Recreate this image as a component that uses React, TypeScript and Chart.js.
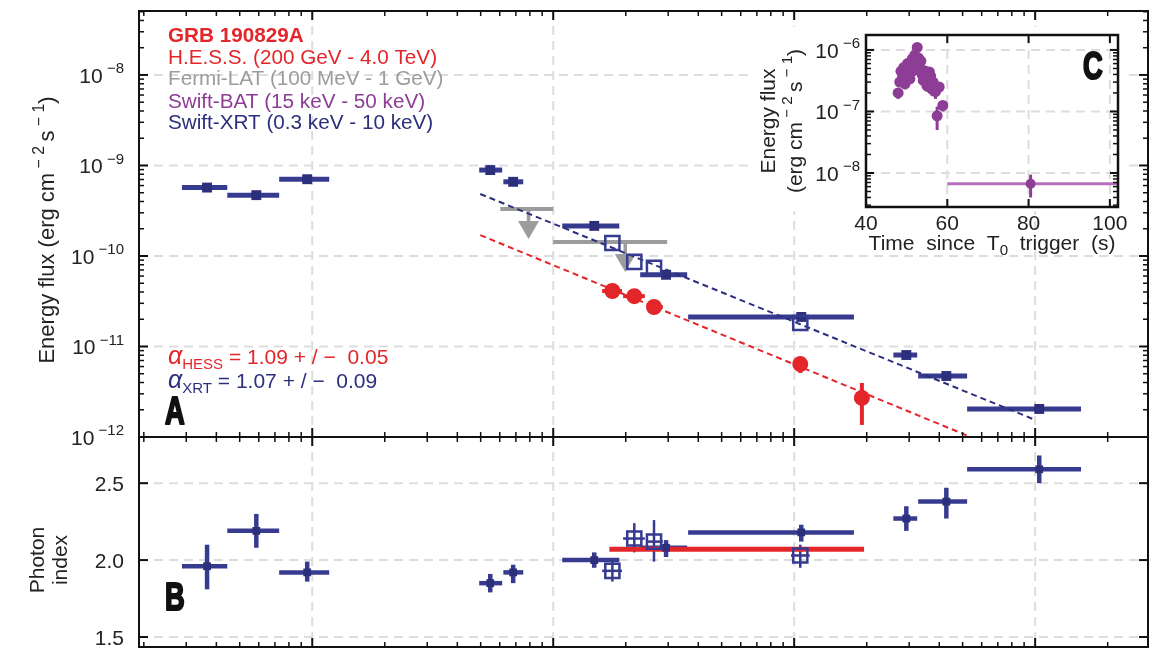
import React, { useEffect, useRef } from 'react';
import { Chart, registerables } from 'chart.js';

Chart.register(...registerables);

const W = 1151;
const H = 649;
const FONT = "'Liberation Sans', Arial, Helvetica, sans-serif";

const NAVY = '#363b8f';
const NAVY_D = '#2c2f7c';
const RED = '#e3262a';
const GRAY = '#9c9c9c';
const PURPLE = '#8e3d97';
const PURPLE_L = '#b56fbd';
const GRIDC = '#dddddd';

// ---------- time axis (s) ----------
const X_MIN = 191;
const X_MAX = 2.94e6;

// ---------- Panel A: energy flux ----------
const FLUX_MIN = 1e-12;
const FLUX_MAX = 5.09e-8;
const fluxTickExps = [-8, -9, -10, -11, -12];

// Swift-XRT (filled squares): time bin, flux, photon index
const xrtT = [366, 586, 953, 5480, 6820, 14800, 29400, 107000, 292000, 428000, 1040000];
const xrtTlo = [288, 444, 729, 4930, 6210, 10900, 22960, 36300, 258000, 327000, 522000];
const xrtThi = [444, 729, 1176, 6140, 7510, 18800, 35970, 177000, 324000, 522000, 1550000];
const xrtFlux = [5.7e-10, 4.7e-10, 7.05e-10, 8.9e-10, 6.6e-10, 2.15e-10, 6.2e-11, 2.12e-11, 8.05e-12, 4.72e-12, 2.04e-12];
const xrtIndex = [1.96, 2.19, 1.92, 1.85, 1.92, 2.0, 2.08, 2.18, 2.27, 2.38, 2.59];
const xrtIndexLo = [1.81, 2.08, 1.86, 1.79, 1.85, 1.95, 2.02, 2.12, 2.19, 2.27, 2.5];
const xrtIndexHi = [2.1, 2.3, 1.99, 1.91, 1.97, 2.05, 2.13, 2.23, 2.35, 2.47, 2.68];

// Swift-XRT simultaneous with H.E.S.S. (open squares)
const xrtOpenT = [17600, 21700, 26200, 106000];
const xrtOpenTlo = [15960, 19500, 24300, 97000];
const xrtOpenThi = [19300, 24000, 28500, 116000];
const xrtOpenFlux = [1.39e-10, 8.6e-11, 7.4e-11, 1.82e-11];
const xrtOpenIndex = [1.93, 2.14, 2.12, 2.03];
const xrtOpenIndexLo = [1.86, 2.05, 1.99, 1.95];
const xrtOpenIndexHi = [2.0, 2.24, 2.26, 2.1];

// H.E.S.S.
const hessT = [17600, 21700, 26200, 106000, 191000];
const hessTlo = [15960, 19500, 24500, 106000, 191000];
const hessThi = [19300, 24000, 28500, 106000, 191000];
const hessFlux = [4.1e-11, 3.6e-11, 2.73e-11, 6.4e-12, 2.7e-12];
const hessFluxLo = [3.6e-11, 3.2e-11, 2.4e-11, 5.1e-12, 1.36e-12];
const hessFluxHi = [4.6e-11, 4.0e-11, 3.1e-11, 7.65e-12, 3.95e-12];
const hessIndexT = [17100, 195000];
const hessIndex = [2.07, 2.07];

// Fermi-LAT upper limits
const latT = [7900, 19900];
const latTlo = [6030, 10000];
const latThi = [10000, 29700];
const latUL = [3.3e-10, 1.43e-10];

// power-law decay fits (end points)
const xrtFitT = [4980, 980000];
const xrtFitF = [4.84e-10, 1.58e-12];
const hessFitT = [4980, 540000];
const hessFitF = [1.7e-10, 1.0e-12];

// ---------- Panel B: photon index ----------
const IDX_MIN = 1.435;
const IDX_MAX = 2.8;
const idxTicks = [1.5, 2.0, 2.5];

// ---------- Panel C: Swift-BAT inset ----------
const C_X_MIN = 40;
const C_X_MAX = 102;
const C_Y_MIN = 2.8e-9;
const C_Y_MAX = 1.75e-6;
const cXTicks = [40, 60, 80, 100];
const cYTickExps = [-6, -7, -8];
const batT = [47.9, 48.3, 48.6, 49.0, 49.3, 49.6, 49.9, 50.2, 50.5, 50.8, 51.1, 51.4, 51.7, 52.0, 52.3, 52.6, 52.9, 53.2, 53.5, 53.8, 54.1, 54.4, 54.7, 55.0, 55.3, 55.6, 55.9, 56.2, 56.5, 56.8, 57.1, 57.5, 58.0, 58.9];
const batFlux = [2.0e-7, 3.0e-7, 4.5e-7, 3.6e-7, 5.2e-7, 2.8e-7, 4.2e-7, 6.0e-7, 4.8e-7, 3.4e-7, 5.6e-7, 7.2e-7, 4.6e-7, 8.2e-7, 6.2e-7, 1.1e-6, 7.4e-7, 5.0e-7, 6.6e-7, 4.0e-7, 3.2e-7, 4.6e-7, 3.6e-7, 2.6e-7, 3.1e-7, 4.4e-7, 3.8e-7, 2.3e-7, 3.0e-7, 2.6e-7, 2.1e-7, 8.5e-8, 2.5e-7, 1.25e-7];
const batErr = [0.4e-7, 0.5e-7, 0.7e-7, 0.6e-7, 0.8e-7, 0.5e-7, 0.7e-7, 0.9e-7, 0.8e-7, 0.6e-7, 0.9e-7, 1.1e-7, 0.8e-7, 1.2e-7, 1.0e-7, 1.5e-7, 1.1e-7, 0.8e-7, 1.0e-7, 0.7e-7, 0.6e-7, 0.8e-7, 0.6e-7, 0.5e-7, 0.6e-7, 0.7e-7, 0.6e-7, 0.5e-7, 0.6e-7, 0.5e-7, 0.5e-7, 0.35e-7, 0.5e-7, 0.25e-7];
const batLateT = [80.5];
const batLateTlo = [60];
const batLateThi = [104];
const batLateFlux = [6.7e-9];
const batLateLo = [4.0e-9];
const batLateHi = [9.4e-9];

// ---------- helpers ----------
type Seg = { t: string; sup?: boolean; sub?: boolean; it?: boolean; sz?: number };

function segSize(s: Seg, size: number) {
  if (s.sz) return s.sz;
  return s.sup || s.sub ? size * 0.72 : size;
}
function segFont(s: Seg, size: number, weight: string, family: string) {
  return `${s.it ? 'italic ' : ''}${weight} ${segSize(s, size)}px ${family}`;
}
function richWidth(ctx: CanvasRenderingContext2D, segs: Seg[], size: number, weight: string, family: string) {
  let w = 0;
  for (const s of segs) {
    ctx.font = segFont(s, size, weight, family);
    w += ctx.measureText(s.t).width;
  }
  return w;
}
// cy = vertical centre of capital letters
function drawRich(
  ctx: CanvasRenderingContext2D,
  segs: Seg[],
  x: number,
  cy: number,
  size: number,
  color: string,
  align: 'left' | 'right' | 'center',
  weight = 'normal',
  family = FONT
) {
  const w = richWidth(ctx, segs, size, weight, family);
  let cx = align === 'left' ? x : align === 'right' ? x - w : x - w / 2;
  const base = cy + size * 0.36;
  ctx.fillStyle = color;
  ctx.textAlign = 'left';
  ctx.textBaseline = 'alphabetic';
  for (const s of segs) {
    ctx.font = segFont(s, size, weight, family);
    const dy = s.sup ? -size * 0.45 : s.sub ? size * 0.26 : 0;
    ctx.fillText(s.t, cx, base + dy);
    cx += ctx.measureText(s.t).width;
  }
}
function drawRichRot(ctx: CanvasRenderingContext2D, segs: Seg[], x: number, y: number, size: number, color: string) {
  ctx.save();
  ctx.translate(x, y);
  ctx.rotate(-Math.PI / 2);
  drawRich(ctx, segs, 0, 0, size, color, 'center');
  ctx.restore();
}
// condensed heavy panel letter, x = left edge, cy = centre of the letter
function drawLetter(ctx: CanvasRenderingContext2D, t: string, x: number, cy: number, size: number) {
  ctx.save();
  ctx.translate(x, cy);
  ctx.scale(0.7, 1);
  ctx.font = `bold ${size}px ${FONT}`;
  ctx.textAlign = 'left';
  ctx.textBaseline = 'alphabetic';
  ctx.fillStyle = '#111';
  ctx.strokeStyle = '#111';
  ctx.lineWidth = 2.2;
  ctx.lineJoin = 'round';
  const base = size * 0.36;
  ctx.fillText(t, 0, base);
  ctx.strokeText(t, 0, base);
  ctx.restore();
}

function logTicks(min: number, max: number) {
  const out: { v: number; major: boolean }[] = [];
  for (let e = Math.floor(Math.log10(min)); e <= Math.ceil(Math.log10(max)); e++) {
    for (let m = 1; m <= 9; m++) {
      const v = m * Math.pow(10, e);
      if (v >= min * 0.9999 && v <= max * 1.0001) out.push({ v, major: m === 1 });
    }
  }
  return out;
}

function seg(ctx: CanvasRenderingContext2D, x1: number, y1: number, x2: number, y2: number) {
  ctx.beginPath();
  ctx.moveTo(x1, y1);
  ctx.lineTo(x2, y2);
  ctx.stroke();
}

function drawGrid(chart: any, xs: number[], ys: number[]) {
  const { ctx, chartArea: ca, scales } = chart;
  ctx.save();
  ctx.strokeStyle = GRIDC;
  ctx.lineWidth = 2;
  ctx.setLineDash([9, 6]);
  for (const v of xs) {
    const p = scales.x.getPixelForValue(v);
    if (p > ca.left + 1 && p < ca.right - 1) seg(ctx, p, ca.top, p, ca.bottom);
  }
  for (const v of ys) {
    const p = scales.y.getPixelForValue(v);
    if (p > ca.top + 1 && p < ca.bottom - 1) seg(ctx, ca.left, p, ca.right, p);
  }
  ctx.restore();
}

function drawFrame(
  chart: any,
  xt: { v: number; major: boolean }[],
  yt: { v: number; major: boolean }[],
  frameW: number,
  maj = 9,
  min = 5
) {
  const { ctx, chartArea: ca, scales } = chart;
  ctx.save();
  ctx.strokeStyle = '#111';
  ctx.setLineDash([]);
  for (const t of xt) {
    const p = scales.x.getPixelForValue(t.v);
    if (p < ca.left - 0.5 || p > ca.right + 0.5) continue;
    const L = t.major ? maj : min;
    ctx.lineWidth = t.major ? 2 : 1.5;
    seg(ctx, p, ca.top, p, ca.top + L);
    seg(ctx, p, ca.bottom, p, ca.bottom - L);
  }
  for (const t of yt) {
    const p = scales.y.getPixelForValue(t.v);
    if (p < ca.top - 0.5 || p > ca.bottom + 0.5) continue;
    const L = t.major ? maj : min;
    ctx.lineWidth = t.major ? 2 : 1.5;
    seg(ctx, ca.left, p, ca.left + L, p);
    seg(ctx, ca.right, p, ca.right - L, p);
  }
  ctx.lineWidth = frameW;
  ctx.strokeRect(ca.left, ca.top, ca.width, ca.height);
  ctx.restore();
}

// error bars: datasets carry `eb` style, points carry xMin/xMax/yMin/yMax
function drawErrorBars(chart: any) {
  const { ctx, chartArea: ca, scales } = chart;
  ctx.save();
  ctx.beginPath();
  ctx.rect(ca.left, ca.top, ca.width, ca.height);
  ctx.clip();
  ctx.setLineDash([]);
  ctx.lineCap = 'butt';
  chart.data.datasets.forEach((ds: any) => {
    if (!ds.eb) return;
    for (const d of ds.data) {
      const px = scales.x.getPixelForValue(d.x);
      const py = scales.y.getPixelForValue(d.y);
      if (d.xMin !== undefined && d.xMax !== undefined && d.xMax > d.xMin) {
        ctx.strokeStyle = ds.eb.xColor || ds.eb.color;
        ctx.lineWidth = ds.eb.xw;
        seg(ctx, scales.x.getPixelForValue(d.xMin), py, scales.x.getPixelForValue(d.xMax), py);
      }
      if (d.yMin !== undefined && d.yMax !== undefined) {
        ctx.strokeStyle = ds.eb.color;
        ctx.lineWidth = ds.eb.yw;
        seg(ctx, px, scales.y.getPixelForValue(d.yMin), px, scales.y.getPixelForValue(d.yMax));
      }
      if (ds.eb.ul) {
        // upper-limit arrow
        ctx.strokeStyle = ds.eb.color;
        ctx.fillStyle = ds.eb.color;
        ctx.lineWidth = 3.5;
        seg(ctx, px, py, px, py + 14);
        ctx.beginPath();
        ctx.moveTo(px - 10.5, py + 12);
        ctx.lineTo(px + 10.5, py + 12);
        ctx.lineTo(px, py + 30);
        ctx.closePath();
        ctx.fill();
      }
    }
  });
  ctx.restore();
}

const baseOptions = (pad: { left: number; top: number; right: number; bottom: number }) => ({
  responsive: false,
  animation: false as const,
  events: [] as any[],
  layout: { padding: pad, autoPadding: false },
  plugins: { legend: { display: false }, tooltip: { enabled: false } },
});

const fluxUnit: Seg[] = [
  { t: '(erg cm' },
  { t: ' \u2212 2 ', sup: true },
  { t: 's' },
  { t: ' \u2212 1', sup: true },
  { t: ')' },
];

// ---------- chart A ----------
function makeA(canvas: HTMLCanvasElement) {
  const xTicks = logTicks(X_MIN, X_MAX);
  const yTicks = logTicks(FLUX_MIN, FLUX_MAX);
  const plugin = {
    id: 'panelA',
    beforeDatasetsDraw(chart: any) {
      drawGrid(chart, [1e3, 1e4, 1e5, 1e6], fluxTickExps.map((e) => Math.pow(10, e)));
      drawErrorBars(chart);
    },
    afterDatasetsDraw(chart: any) {
      const { ctx, chartArea: ca, scales } = chart;
      drawFrame(chart, xTicks, yTicks, 2);
      for (const e of fluxTickExps) {
        const p = scales.y.getPixelForValue(Math.pow(10, e));
        drawRich(ctx, [{ t: '10' }, { t: ' \u2212' + -e, sup: true, sz: 15 }], ca.left - 15, p, 21, '#222', 'right');
      }
      drawRichRot(ctx, [{ t: 'Energy flux ' }, ...fluxUnit], 46, 230, 22, '#222');
      // legend text
      const lx = 168;
      drawRich(ctx, [{ t: 'GRB 190829A' }], lx, 35, 20.7, RED, 'left', 'bold');
      drawRich(ctx, [{ t: 'H.E.S.S. (200 GeV - 4.0 TeV)' }], lx, 56.5, 20.7, RED, 'left');
      drawRich(ctx, [{ t: 'Fermi-LAT (100 MeV - 1 GeV)' }], lx, 78, 20.7, GRAY, 'left');
      drawRich(ctx, [{ t: 'Swift-BAT (15 keV - 50 keV)' }], lx, 100.5, 20.7, PURPLE, 'left');
      drawRich(ctx, [{ t: 'Swift-XRT (0.3 keV - 10 keV)' }], lx, 122, 20.7, NAVY_D, 'left');
      drawRich(
        ctx,
        [{ t: '\u03b1', it: true, sz: 25 }, { t: 'HESS', sub: true, sz: 15 }, { t: ' = 1.09 + / \u2212  0.05' }],
        lx,
        356,
        21,
        RED,
        'left'
      );
      drawRich(
        ctx,
        [{ t: '\u03b1', it: true, sz: 25 }, { t: 'XRT', sub: true, sz: 15 }, { t: ' = 1.07 + / \u2212  0.09' }],
        lx,
        380,
        21,
        NAVY_D,
        'left'
      );
      drawLetter(ctx, 'A', 165, 410, 39);
    },
  };
  return new Chart(canvas, {
    type: 'scatter',
    data: {
      datasets: [
        {
          label: 'H.E.S.S.',
          data: hessT.map((t, i) => ({ x: t, y: hessFlux[i], xMin: hessTlo[i], xMax: hessThi[i], yMin: hessFluxLo[i], yMax: hessFluxHi[i] })),
          pointStyle: 'circle',
          pointRadius: 8,
          pointBackgroundColor: RED,
          pointBorderColor: RED,
          pointBorderWidth: 0,
          eb: { color: RED, xw: 4, yw: 4 },
        } as any,
        {
          label: 'XRT open',
          data: xrtOpenT.map((t, i) => ({ x: t, y: xrtOpenFlux[i] })),
          pointStyle: 'rect',
          pointRadius: 10,
          pointBackgroundColor: 'rgba(0,0,0,0)',
          pointBorderColor: NAVY,
          pointBorderWidth: 2.5,
        } as any,
        {
          label: 'XRT',
          data: xrtT.map((t, i) => ({ x: t, y: xrtFlux[i], xMin: xrtTlo[i], xMax: xrtThi[i] })),
          pointStyle: 'rect',
          pointRadius: 7,
          pointBackgroundColor: NAVY_D,
          pointBorderColor: NAVY_D,
          pointBorderWidth: 0,
          eb: { color: NAVY, xw: 5, yw: 4 },
        } as any,
        {
          label: 'LAT UL',
          data: latT.map((t, i) => ({ x: t, y: latUL[i], xMin: latTlo[i], xMax: latThi[i] })),
          pointRadius: 0,
          eb: { color: GRAY, xw: 4, yw: 3, ul: true },
        } as any,
        {
          label: 'XRT fit',
          data: xrtFitT.map((t, i) => ({ x: t, y: xrtFitF[i] })),
          showLine: true,
          borderColor: NAVY_D,
          borderWidth: 2,
          borderDash: [6, 4],
          pointRadius: 0,
        } as any,
        {
          label: 'HESS fit',
          data: hessFitT.map((t, i) => ({ x: t, y: hessFitF[i] })),
          showLine: true,
          borderColor: RED,
          borderWidth: 2,
          borderDash: [6, 4],
          pointRadius: 0,
        } as any,
      ],
    },
    options: {
      ...baseOptions({ left: 139, top: 11, right: W - 1148, bottom: H - 437 }),
      scales: {
        x: { type: 'logarithmic', min: X_MIN, max: X_MAX, display: false },
        y: { type: 'logarithmic', min: FLUX_MIN, max: FLUX_MAX, display: false },
      },
    } as any,
    plugins: [plugin],
  });
}

// ---------- chart B ----------
function makeB(canvas: HTMLCanvasElement) {
  const xTicks = logTicks(X_MIN, X_MAX);
  const yTicks = idxTicks.map((v) => ({ v, major: true }));
  const plugin = {
    id: 'panelB',
    beforeDatasetsDraw(chart: any) {
      drawGrid(chart, [1e3, 1e4, 1e5, 1e6], idxTicks);
      drawErrorBars(chart);
    },
    afterDatasetsDraw(chart: any) {
      const { ctx, chartArea: ca, scales } = chart;
      drawFrame(chart, xTicks, yTicks, 2);
      for (const v of idxTicks) {
        const p = scales.y.getPixelForValue(v);
        drawRich(ctx, [{ t: v.toFixed(1) }], ca.left - 15, p, 21, '#222', 'right');
      }
      drawRichRot(ctx, [{ t: 'Photon' }], 36, 560, 21, '#222');
      drawRichRot(ctx, [{ t: 'index' }], 59, 560, 21, '#222');
      drawLetter(ctx, 'B', 165, 596, 39);
    },
  };
  return new Chart(canvas, {
    type: 'scatter',
    data: {
      datasets: [
        {
          label: 'XRT open',
          data: xrtOpenT.map((t, i) => ({ x: t, y: xrtOpenIndex[i], xMin: xrtOpenTlo[i], xMax: xrtOpenThi[i], yMin: xrtOpenIndexLo[i], yMax: xrtOpenIndexHi[i] })),
          pointStyle: 'rect',
          pointRadius: 10,
          pointBackgroundColor: 'rgba(0,0,0,0)',
          pointBorderColor: NAVY,
          pointBorderWidth: 2.5,
          eb: { color: NAVY, xw: 2.5, yw: 2.5 },
        } as any,
        {
          label: 'XRT',
          data: xrtT.map((t, i) => ({ x: t, y: xrtIndex[i], xMin: xrtTlo[i], xMax: xrtThi[i], yMin: xrtIndexLo[i], yMax: xrtIndexHi[i] })),
          pointStyle: 'rect',
          pointRadius: 5.5,
          pointBackgroundColor: NAVY_D,
          pointBorderColor: NAVY_D,
          pointBorderWidth: 0,
          eb: { color: NAVY, xw: 4.5, yw: 4.5 },
        } as any,
        {
          label: 'HESS index',
          data: hessIndexT.map((t, i) => ({ x: t, y: hessIndex[i] })),
          showLine: true,
          borderColor: RED,
          borderWidth: 5,
          pointRadius: 0,
        } as any,
      ],
    },
    options: {
      ...baseOptions({ left: 139, top: 437, right: W - 1148, bottom: H - 647 }),
      scales: {
        x: { type: 'logarithmic', min: X_MIN, max: X_MAX, display: false },
        y: { type: 'linear', min: IDX_MIN, max: IDX_MAX, display: false },
      },
    } as any,
    plugins: [plugin],
  });
}

// ---------- chart C (inset) ----------
function makeC(canvas: HTMLCanvasElement) {
  const xTicks = cXTicks.map((v) => ({ v, major: true }));
  const yTicks = logTicks(C_Y_MIN, C_Y_MAX);
  const plugin = {
    id: 'panelC',
    beforeDraw(chart: any) {
      const { ctx } = chart;
      ctx.save();
      ctx.fillStyle = '#ffffff';
      ctx.fillRect(748, 27, 380, 184);
      ctx.restore();
    },
    beforeDatasetsDraw(chart: any) {
      drawGrid(chart, cXTicks, cYTickExps.map((e) => Math.pow(10, e)));
      drawErrorBars(chart);
    },
    afterDatasetsDraw(chart: any) {
      const { ctx, chartArea: ca, scales } = chart;
      drawFrame(chart, xTicks, yTicks, 2.5, 8, 5);
      for (const e of cYTickExps) {
        const p = scales.y.getPixelForValue(Math.pow(10, e));
        drawRich(ctx, [{ t: '10' }, { t: ' \u2212' + -e, sup: true, sz: 15 }], ca.left - 6, p, 21, '#222', 'right');
      }
      for (const v of cXTicks) {
        const p = scales.x.getPixelForValue(v);
        drawRich(ctx, [{ t: String(v) }], p, ca.bottom + 15, 21, '#222', 'center');
      }
      drawRich(
        ctx,
        [{ t: 'Time  since  T' }, { t: '0', sub: true }, { t: '  trigger  (s)' }],
        (ca.left + ca.right) / 2,
        ca.bottom + 35,
        21,
        '#222',
        'center'
      );
      drawRichRot(ctx, [{ t: 'Energy flux' }], 767, (ca.top + ca.bottom) / 2, 21, '#222');
      drawRichRot(ctx, fluxUnit, 794, (ca.top + ca.bottom) / 2, 21, '#222');
      drawLetter(ctx, 'C', ca.right - 35, ca.top + 30, 39);
    },
  };
  return new Chart(canvas, {
    type: 'scatter',
    data: {
      datasets: [
        {
          label: 'BAT',
          data: batT.map((t, i) => ({ x: t, y: batFlux[i], yMin: batFlux[i] - batErr[i], yMax: batFlux[i] + batErr[i] })),
          pointStyle: 'circle',
          pointRadius: 5.5,
          pointBackgroundColor: PURPLE,
          pointBorderColor: PURPLE,
          pointBorderWidth: 0,
          eb: { color: PURPLE, xw: 3, yw: 3 },
        } as any,
        {
          label: 'BAT late',
          data: batLateT.map((t, i) => ({ x: t, y: batLateFlux[i], xMin: batLateTlo[i], xMax: batLateThi[i], yMin: batLateLo[i], yMax: batLateHi[i] })),
          pointStyle: 'circle',
          pointRadius: 5,
          pointBackgroundColor: PURPLE,
          pointBorderColor: PURPLE,
          pointBorderWidth: 0,
          eb: { color: PURPLE, xColor: PURPLE_L, xw: 3, yw: 3 },
        } as any,
      ],
    },
    options: {
      ...baseOptions({ left: 866, top: 35, right: W - 1118, bottom: H - 207 }),
      scales: {
        x: { type: 'linear', min: C_X_MIN, max: C_X_MAX, display: false },
        y: { type: 'logarithmic', min: C_Y_MIN, max: C_Y_MAX, display: false },
      },
    } as any,
    plugins: [plugin],
  });
}

export default function App() {
  const aRef = useRef<HTMLCanvasElement>(null);
  const bRef = useRef<HTMLCanvasElement>(null);
  const cRef = useRef<HTMLCanvasElement>(null);
  useEffect(() => {
    const a = makeA(aRef.current!);
    const b = makeB(bRef.current!);
    const c = makeC(cRef.current!);
    return () => {
      a.destroy();
      b.destroy();
      c.destroy();
    };
  }, []);
  const st: React.CSSProperties = { position: 'absolute', left: 0, top: 0, width: W, height: H };
  return (
    <div style={{ position: 'fixed', left: 0, top: 0, width: W, height: H, background: '#ffffff', overflow: 'hidden' }}>
      <canvas ref={aRef} width={W} height={H} style={st} />
      <canvas ref={bRef} width={W} height={H} style={st} />
      <canvas ref={cRef} width={W} height={H} style={st} />
    </div>
  );
}
